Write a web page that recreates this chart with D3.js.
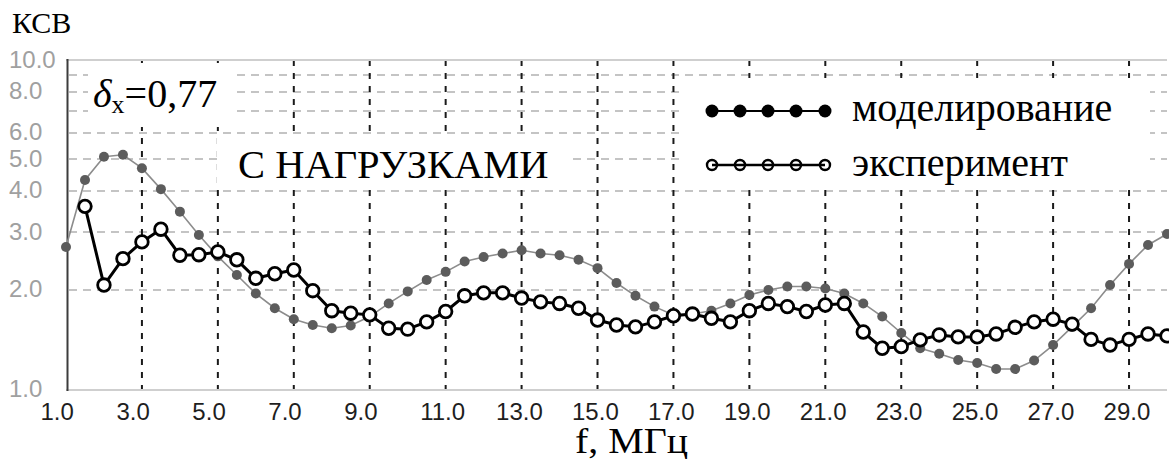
<!DOCTYPE html>
<html>
<head>
<meta charset="utf-8">
<script src="https://cdn.jsdelivr.net/npm/d3@7"></script>
<style>
  body { margin: 0; background: #fff; }
  svg { display: block; }
</style>
</head>
<body>
<svg id="chart" width="1169" height="459"></svg>
<script>
// modelling (grey dots), f in MHz
const modelFreq = [1.0, 1.5, 2.0, 2.5, 3.0, 3.5, 4.0, 4.5, 5.0, 5.5, 6.0, 6.5, 7.0, 7.5, 8.0, 8.5, 9.0, 9.5, 10.0, 10.5,
  11.0, 11.5, 12.0, 12.5, 13.0, 13.5, 14.0, 14.5, 15.0, 15.5, 16.0, 16.5, 17.0, 17.5, 18.0, 18.5, 19.0, 19.5, 20.0, 20.5,
  21.0, 21.5, 22.0, 22.5, 23.0, 23.5, 24.0, 24.5, 25.0, 25.5, 26.0, 26.5, 27.0, 27.5, 28.0, 28.5, 29.0, 29.5, 30.0];
const modelKsv = [2.70, 4.32, 5.08, 5.15, 4.69, 4.05, 3.46, 2.94, 2.53, 2.22, 1.95, 1.76, 1.63, 1.565, 1.53, 1.56, 1.66, 1.82, 1.98, 2.145,
  2.27, 2.44, 2.52, 2.58, 2.64, 2.58, 2.55, 2.47, 2.33, 2.10, 1.92, 1.78, 1.68, 1.69, 1.73, 1.82, 1.93, 2.00, 2.05, 2.05,
  2.02, 1.95, 1.82, 1.66, 1.48, 1.33, 1.28, 1.225, 1.20, 1.15, 1.15, 1.22, 1.36, 1.545, 1.76, 2.07, 2.40, 2.74, 2.96];

// experiment (black open circles)
const expFreq = [1.5, 2.0, 2.5, 3.0, 3.5, 4.0, 4.5, 5.0, 5.5, 6.0, 6.5, 7.0, 7.5, 8.0, 8.5, 9.0, 9.5, 10.0, 10.5,
  11.0, 11.5, 12.0, 12.5, 13.0, 13.5, 14.0, 14.5, 15.0, 15.5, 16.0, 16.5, 17.0, 17.5, 18.0, 18.5, 19.0, 19.5, 20.0, 20.5,
  21.0, 21.5, 22.0, 22.5, 23.0, 23.5, 24.0, 24.5, 25.0, 25.5, 26.0, 26.5, 27.0, 27.5, 28.0, 28.5, 29.0, 29.5, 30.0];
const expKsv = [3.59, 2.07, 2.49, 2.80, 3.06, 2.55, 2.56, 2.61, 2.47, 2.17, 2.24, 2.30, 1.99, 1.73, 1.70, 1.68, 1.53, 1.52, 1.60,
  1.72, 1.92, 1.96, 1.96, 1.89, 1.84, 1.82, 1.76, 1.62, 1.565, 1.545, 1.60, 1.67, 1.69, 1.64, 1.60, 1.73, 1.82, 1.78, 1.72,
  1.80, 1.82, 1.49, 1.33, 1.345, 1.41, 1.46, 1.44, 1.44, 1.47, 1.54, 1.60, 1.63, 1.575, 1.415, 1.36, 1.415, 1.47, 1.45];

const xTicks = [1, 3, 5, 7, 9, 11, 13, 15, 17, 19, 21, 23, 25, 27, 29];
const xGrid = [3, 5, 7, 9, 11, 13, 15, 17, 19, 21, 23, 25, 27, 29];
const yTicks = [10, 8, 6, 5, 4, 3, 2, 1];
const yGrid = [2, 3, 4, 5, 6, 7, 8, 9];

const svg = d3.select("#chart");

let x = d3.scaleLinear().domain([1, 30]).range([66, 1167]);
let y = d3.scaleLog().domain([1, 10]).range([389, 60]);

const serif = "'Liberation Serif', 'Times New Roman', serif";
const sans = "'Liberation Sans', Arial, sans-serif";

// horizontal grid (light grey dashes)
svg.append("g")
  .selectAll("line")
  .data(yGrid)
  .enter()
  .append("line")
  .attr("x1", x(1) + 3).attr("x2", x(30))
  .attr("y1", d => y(d)).attr("y2", d => y(d))
  .style("stroke", "#c4c4c4")
  .style("stroke-width", 2)
  .style("stroke-dasharray", "8,6");

// vertical grid (black dashes)
svg.append("g")
  .selectAll("line")
  .data(xGrid)
  .enter()
  .append("line")
  .attr("x1", d => x(d)).attr("x2", d => x(d))
  .attr("y1", y(10)).attr("y2", y(1))
  .style("stroke", "#1a1a1a")
  .style("stroke-width", 2)
  .style("stroke-dasharray", "6,7");

// frame
svg.append("line")
  .attr("x1", x(1)).attr("x2", x(30)).attr("y1", y(10)).attr("y2", y(10))
  .style("stroke", "#cfcfcf").style("stroke-width", 2);
svg.append("line")
  .attr("x1", x(1)).attr("x2", x(30)).attr("y1", y(1) + 1).attr("y2", y(1) + 1)
  .style("stroke", "#cfcfcf").style("stroke-width", 2);
svg.append("line")
  .attr("x1", x(1) + 1.5).attr("x2", x(1) + 1.5).attr("y1", y(10) - 1).attr("y2", y(1) + 2)
  .style("stroke", "#3c3c3c").style("stroke-width", 2);

// white boxes behind the notes and legend
const boxes = [[88, 63, 145, 64], [217, 137, 353, 52], [684, 78, 466, 109]];
svg.append("g")
  .selectAll("rect")
  .data(boxes)
  .enter()
  .append("rect")
  .attr("x", d => d[0]).attr("y", d => d[1])
  .attr("width", d => d[2]).attr("height", d => d[3])
  .style("fill", "#fff");

// axes labels
let xAxis = d3.axisBottom(x).tickValues(xTicks).tickSize(0).tickFormat(d3.format(".1f"));
let gx = svg.append("g").attr("transform", `translate(0, ${y(1)})`).call(xAxis);
gx.select(".domain").remove();
gx.selectAll("text")
  .attr("text-anchor", "start")
  .attr("x", -26)
  .attr("y", 0)
  .attr("dy", 31)
  .style("font-family", sans)
  .style("font-size", "24px")
  .style("fill", "#1e1e1e");

let yAxis = d3.axisLeft(y).tickValues(yTicks).tickSize(0).tickFormat(d3.format(".1f"));
let gy = svg.append("g").attr("transform", "translate(9, 0)").call(yAxis);
gy.select(".domain").remove();
gy.selectAll("text")
  .attr("text-anchor", "start")
  .attr("x", 0)
  .attr("dy", 7)
  .style("font-family", sans)
  .style("font-size", "24px")
  .style("fill", "#a0a0a0");

// modelling series
const model = modelFreq.map((f, i) => [f, modelKsv[i]]);
const exper = expFreq.map((f, i) => [f, expKsv[i]]);

let line = d3.line().x(d => x(d[0])).y(d => y(d[1]));

svg.append("path")
  .datum(model)
  .attr("d", line)
  .style("fill", "none")
  .style("stroke", "#8c8c8c")
  .style("stroke-width", 1.6);

svg.append("g")
  .selectAll("circle")
  .data(model)
  .enter()
  .append("circle")
  .attr("cx", d => x(d[0]))
  .attr("cy", d => y(d[1]))
  .attr("r", 5)
  .style("fill", "#5c5c5c");

// experiment series
svg.append("path")
  .datum(exper)
  .attr("d", line)
  .style("fill", "none")
  .style("stroke", "#000")
  .style("stroke-width", 3)
  .style("stroke-linejoin", "round");

svg.append("g")
  .selectAll("circle")
  .data(exper)
  .enter()
  .append("circle")
  .attr("cx", d => x(d[0]))
  .attr("cy", d => y(d[1]))
  .attr("r", 6.3)
  .style("fill", "#fff")
  .style("stroke", "#000")
  .style("stroke-width", 2.8);

// legend
const legendX = [712, 740, 768, 796, 825];
let lg = svg.append("g");
lg.append("line").attr("x1", 712).attr("x2", 825).attr("y1", 111).attr("y2", 111)
  .style("stroke", "#000").style("stroke-width", 2);
lg.selectAll(".ldot").data(legendX).enter().append("circle")
  .attr("class", "ldot")
  .attr("cx", d => d).attr("cy", 111).attr("r", 6.5)
  .style("fill", "#000");
lg.append("line").attr("x1", 712).attr("x2", 825).attr("y1", 165).attr("y2", 165)
  .style("stroke", "#000").style("stroke-width", 2.5);
lg.selectAll(".lcirc").data(legendX).enter().append("circle")
  .attr("class", "lcirc")
  .attr("cx", d => d).attr("cy", 165).attr("r", 5)
  .style("fill", "none")
  .style("stroke", "#000")
  .style("stroke-width", 2.4);
lg.append("text").attr("x", 852).attr("y", 121).text("моделирование")
  .style("font-family", serif).style("font-size", "40px");
lg.append("text").attr("x", 852).attr("y", 176).text("эксперимент")
  .style("font-family", serif).style("font-size", "40px");

// notes
let note = svg.append("text").attr("x", 93).attr("y", 107)
  .style("font-family", serif).style("font-size", "40px");
note.append("tspan").text("δ").style("font-style", "italic");
note.append("tspan").text("x").attr("dy", 6).style("font-size", "26px");
note.append("tspan").text("=0,77").attr("dy", -6);

svg.append("text").attr("x", 238).attr("y", 178).text("С НАГРУЗКАМИ")
  .style("font-family", serif).style("font-size", "40.5px");

svg.append("text").attr("x", 12).attr("y", 33).text("КСВ")
  .style("font-family", serif).style("font-size", "30px");

svg.append("text").attr("x", 575).attr("y", 453).text("f, МГц")
  .attr("textLength", 113).attr("lengthAdjust", "spacingAndGlyphs")
  .style("font-family", serif).style("font-size", "35px");
</script>
</body>
</html>
